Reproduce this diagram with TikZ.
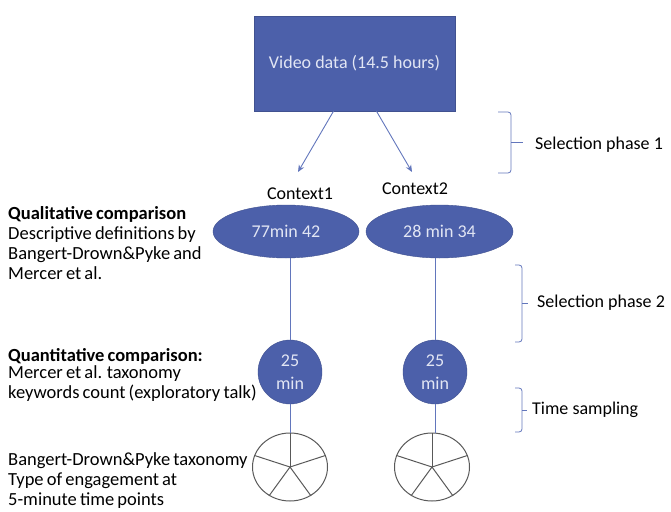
\documentclass[tikz,border=0pt]{standalone}
\usepackage{fontspec}
\setmainfont{Carlito}
\usetikzlibrary{shapes.geometric,arrows.meta}

\definecolor{boxblue}{RGB}{76,96,170}
\definecolor{linkblue}{RGB}{98,118,188}
\definecolor{paletext}{RGB}{226,230,244}
\newcommand\tightwords{\spaceskip=0.17em plus 0.05em\relax}

\begin{document}
\begin{tikzpicture}[x=1pt,y=-1pt,
    blueshape/.style={fill=boxblue,draw=boxblue!85!black,text=paletext,
      font=\fontsize{18}{20}\selectfont,inner sep=0pt},
    pie/.style={ellipse,draw=black!65,line width=1pt,inner sep=0pt,
      minimum width=75pt,minimum height=68pt},
    link/.style={linkblue,line width=0.9pt},
    phase/.style={linkblue,line width=0.8pt,rounded corners=3pt},
    lefttext/.style={anchor=west,align=left,inner sep=0pt,
      font=\fontsize{18.5}{20}\selectfont\tightwords},
    label/.style={inner sep=0pt,font=\fontsize{18}{20}\selectfont}]
\useasboundingbox (0,0) rectangle (671,511);

    % source
    \node[blueshape,minimum width=201pt,minimum height=95pt] (video)
        at (354.5,63.5) {Video data (14.5 hours)};

    % contexts
    \node[label] (ctxAlabel) at (300,194) {Context1};
    \node[label] (ctxBlabel) at (415,189) {Context2};
    \node[blueshape,ellipse,minimum width=146pt,minimum height=53pt] (ctxA)
        at (286,231.5) {77min 42};
    \node[blueshape,ellipse,minimum width=147pt,minimum height=53pt] (ctxB)
        at (439.5,231.5) {28 min 34};
    \coordinate (arrA) at (298,172);
    \coordinate (arrB) at (412,172);
    \draw[link,-{Stealth[length=7pt,width=6pt]}] ([xshift=-21pt]video.south) -- (arrA);
    \draw[link,-{Stealth[length=7pt,width=6pt]}] ([xshift=22pt]video.south) -- (arrB);

    % samples
    \node[blueshape,circle,minimum size=64pt,align=center,
        font=\fontsize{18}{23}\selectfont] (sampA) at (290,372) {25\\min};
    \node[blueshape,circle,minimum size=64pt,align=center,
        font=\fontsize{18}{23}\selectfont] (sampB) at (435,372) {25\\min};
    \draw[link] (ctxA.south -| sampA) -- (sampA.north);
    \draw[link] (ctxB.south -| sampB) -- (sampB.north);

    % time points
    \node[pie] (pieA) at (290,467) {};
    \node[pie] (pieB) at (432,467) {};
    \draw[link] (sampA.south) -- (pieA.north -| sampA);
    \draw[link] (sampB.south) -- (pieB.north -| sampB);
    \foreach \p in {pieA,pieB}
        \foreach \a in {90,18,-54,-126,162}
            \draw[black!65,line width=1pt] (\p.center) -- (\p.\a);

    % descriptions
    \node[lefttext] (qual) at (8,243)
        {\textbf{Qualitative comparison}\\Descriptive definitions by\\
         Bangert-Drown\&Pyke and\\Mercer et al.};
    \node[lefttext] (quant) at (8,375)
        {\textbf{Quantitative comparison:}\\[-3pt]Mercer et al. taxonomy\\
         keywords count (exploratory talk)};
    \node[lefttext] (engage) at (8,481)
        {Bangert-Drown\&Pyke taxonomy\\Type of engagement at\\
         5-minute time points};

    % phases
    \draw[phase] (498,112) -- (511,112) -- (511,173) -- (498,173);
    \draw[phase] (511,142) -- (523,142);
    \node[label,anchor=west] (phaseA) at (535,145) {Selection phase 1};
    \draw[phase] (515,265) -- (522,265) -- (522,342) -- (515,342);
    \draw[phase] (522,303) -- (528,303);
    \node[label,anchor=west] (phaseB) at (537,303) {Selection phase 2};
    \draw[phase] (515,388) -- (522,388) -- (522,432) -- (515,432);
    \draw[phase] (522,410) -- (527,410);
    \node[label,anchor=west] (phaseC) at (532,410) {Time sampling};
\end{tikzpicture}
\end{document}
